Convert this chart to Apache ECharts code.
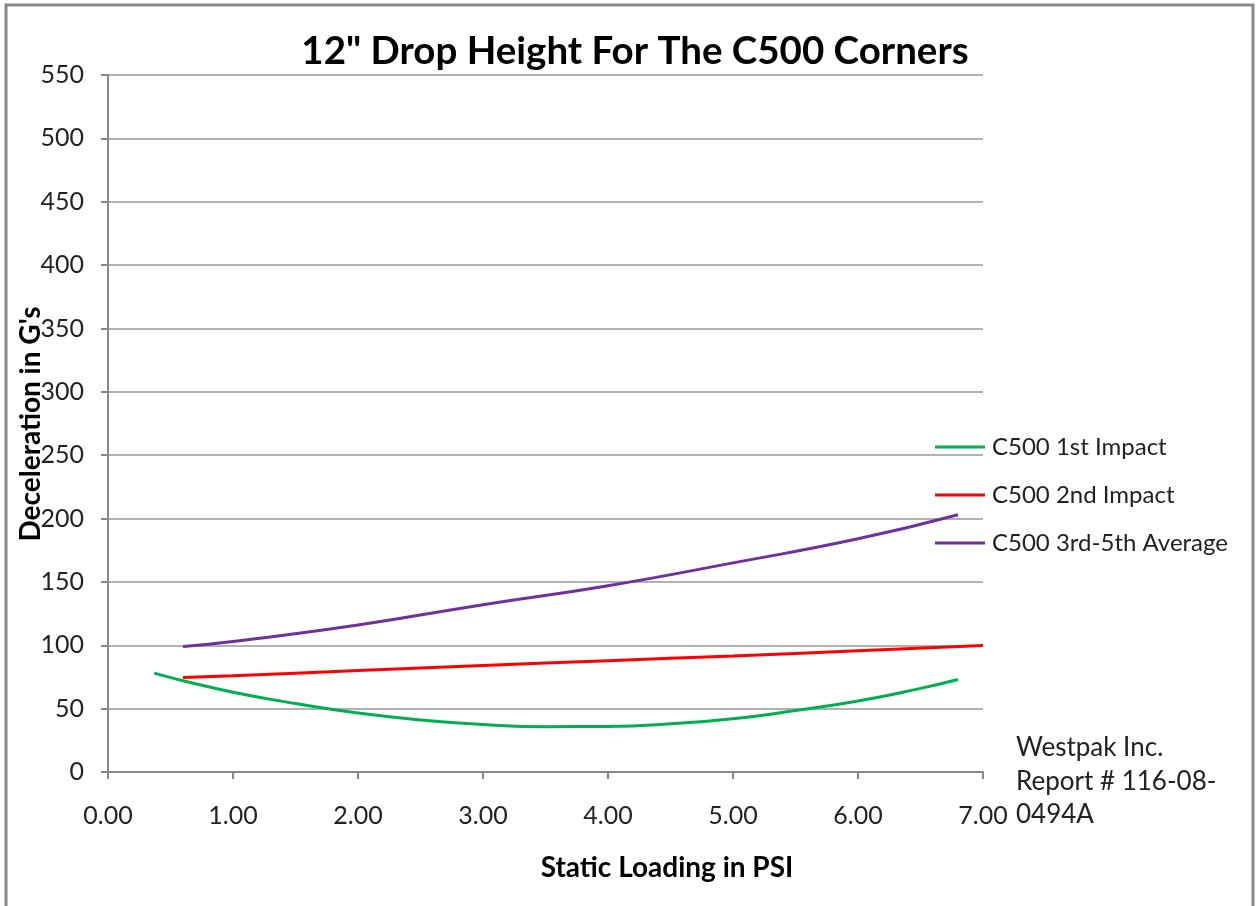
<!DOCTYPE html>
<html><head><meta charset="utf-8">
<script src="https://cdn.jsdelivr.net/npm/echarts@6/dist/echarts.min.js"></script>
<style>html,body{margin:0;padding:0;background:#fff}#c{width:1256px;height:906px}</style>
</head><body><div id="c"></div>
<script>
const titleText = '12" Drop Height For The C500 Corners';
const xAxisName = 'Static Loading in PSI';
const yAxisName = "Deceleration in G's";
const seriesNames = ['C500 1st Impact', 'C500 2nd Impact', 'C500 3rd-5th Average'];
const seriesColors = ['#00B050', '#FF0000', '#7030A0'];
const noteLines = ['Westpak Inc.', 'Report # 116-08-', '0494A'];

const impact1 = [[0.37,78],[0.6,72],[1,63],[1.5,54],[2,46.5],[2.5,41],[3,37.5],[3.5,35.8],[4,36],[4.5,38],[5,42],[5.5,48.5],[6,56],[6.5,66],[6.8,73]];
const impact2 = [[0.6,74.5],[1,76],[2,80],[3,84],[4,87.8],[5,91.6],[6,95.6],[7,99.8]];
const average35 = [[0.6,99],[1,103],[2,116],[3,132],[4,147],[5,165],[6,184],[6.8,203]];

const FONT = 'Lato, "Open Sans", sans-serif';
const chart = echarts.init(document.getElementById('c'));
const dataSets = [impact1, impact2, average35];
chart.setOption({
  animation: false,
  backgroundColor: '#fff',
  title: {
    text: titleText, left: 630, top: 27, textAlign: 'center',
    textStyle: {fontFamily: FONT, fontSize: 38.5, fontWeight: 'bold', color: '#000'}
  },
  legend: {
    orient: 'vertical', left: 935, top: 435, itemGap: 24, padding: 0,
    itemWidth: 50, itemHeight: 3, icon: 'rect',
    textStyle: {fontFamily: FONT, fontSize: 24, lineHeight: 24, color: '#222', padding: [0,0,0,2]},
    data: seriesNames
  },
  grid: {left: 108, right: 273, top: 75, bottom: 134, containLabel: false, outerBoundsMode: 'none'},
  xAxis: {
    type: 'value', min: 0, max: 7, interval: 1,
    axisLine: {show: true, lineStyle: {color: '#888', width: 2}},
    axisTick: {show: true, length: 7, lineStyle: {color: '#888', width: 2}},
    splitLine: {show: false},
    axisLabel: {fontFamily: FONT, fontSize: 25, color: '#222', margin: 31,
      formatter: v => v.toFixed(2)}
  },
  yAxis: {
    type: 'value', min: 0, max: 550, interval: 50,
    axisLine: {show: true, lineStyle: {color: '#888', width: 2}},
    axisTick: {show: true, length: 7, lineStyle: {color: '#888', width: 2}},
    splitLine: {show: true, lineStyle: {color: '#999', width: 1.5}},
    axisLabel: {fontFamily: FONT, fontSize: 25, color: '#222', margin: 24}
  },
  series: dataSets.map((d, i) => ({
    name: seriesNames[i], type: 'line', data: d, smooth: true, showSymbol: false,
    lineStyle: {color: seriesColors[i], width: 3}, itemStyle: {color: seriesColors[i]}
  })),
  graphic: [
    {type: 'rect', shape: {x: 6, y: 5, width: 1247, height: 920},
     style: {fill: 'none', stroke: '#888', lineWidth: 3}, silent: true},
    {type: 'text', x: 667, y: 868,
     style: {text: xAxisName, fontFamily: FONT, fontSize: 28, fontWeight: 'bold', fill: '#000',
       align: 'center', verticalAlign: 'middle'}},
    {type: 'text', x: 31, y: 424, rotation: Math.PI / 2,
     style: {text: yAxisName, fontFamily: FONT, fontSize: 28, fontWeight: 'bold', fill: '#000',
       align: 'center', verticalAlign: 'middle'}},
    {type: 'text', left: 1016, top: 731,
     style: {text: noteLines.join('\n'), fontFamily: FONT, fontSize: 26, lineHeight: 33.5, fill: '#222'}}
  ]
});
</script></body></html>
